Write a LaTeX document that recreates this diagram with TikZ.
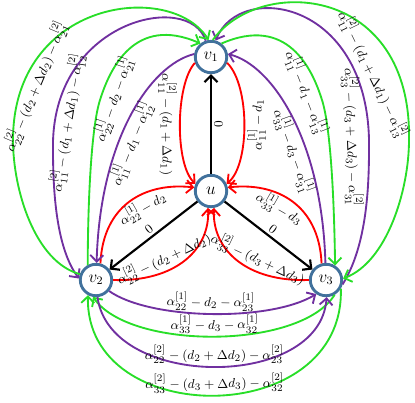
\documentclass[tikz,border=0pt]{standalone}
\usepackage{tikz}
\usetikzlibrary{arrows.meta}
\definecolor{nodeblue}{RGB}{65,113,156}
\definecolor{arcred}{RGB}{255,0,0}
\definecolor{arcgreen}{RGB}{40,222,40}
\definecolor{arcpurple}{RGB}{112,48,160}
\tikzset{
  vtx/.style={circle, draw=nodeblue, line width=2pt, fill=white, minimum size=22pt, inner sep=0pt, font=\large},
  arc/.style={line width=1.3pt, >={Straight Barb[length=1.6mm,width=3.2mm]}},
  redarc/.style={arc, draw=arcred},
  greenarc/.style={arc, draw=arcgreen},
  purplearc/.style={arc, draw=arcpurple},
  blackarc/.style={arc, draw=black, line width=1.5pt},
  lbl/.style={sloped, text=black, inner sep=1.5pt, font=\fontsize{9.5}{11}\selectfont}
}

\begin{document}
\begin{tikzpicture}[x=0.7pt, y=-0.7pt]
  \useasboundingbox (0,0) rectangle (415,402);
  \node[vtx] (v1) at (211,57) {$v_1$};
  \node[vtx] (u) at (211,191) {$u$};
  \node[vtx] (v2) at (96,280) {$v_2$};
  \node[vtx] (v3) at (326,280) {$v_3$};
  % u to the three v's
  \draw[blackarc,->] (u) -- (v1) node[lbl, midway, below] {$0$};
  \draw[blackarc,<-] (v2) -- (u) node[lbl, midway, above] {$0$};
  \draw[blackarc,->] (u) -- (v3) node[lbl, midway, above] {$0$};
  % red arcs back into u
  \draw[redarc,<-] (u.155) .. controls (175,165) and (175,85) .. (v1.200) node[lbl, midway, below] {$\alpha_{11}^{[2]}-(d_1+\Delta d_1)$};
  \draw[redarc,->] (v1.-20) .. controls (250,85) and (250,165) .. (u.25) node[lbl, midway, below] {$\alpha_{11}^{[1]}-d_1$};
  \draw[redarc,->] (v2.75) .. controls (103,205) and (145,182) .. (u.168) node[lbl, pos=0.56, below] {$\alpha_{22}^{[1]}-d_2$};
  \draw[redarc,->] (v2.0) .. controls (175,282) and (210,250) .. (u.-100) node[lbl, pos=0.36, above] {$\alpha_{22}^{[2]}-(d_2+\Delta d_2)$};
  \draw[redarc,<-] (u.12) .. controls (277,182) and (319,205) .. (v3.105) node[lbl, pos=0.44, below] {$\alpha_{33}^{[1]}-d_3$};
  \draw[redarc,<-] (u.-80) .. controls (212,250) and (247,282) .. (v3.180) node[lbl, pos=0.64, above] {$\alpha_{33}^{[2]}-(d_3+\Delta d_3)$};
  % between v1 and v2
  \draw[purplearc,->] (v1.170) .. controls (150,65) and (100,140) .. (v2.88) node[lbl, pos=0.6, below] {$\alpha_{11}^{[1]}-d_1-\alpha_{12}^{[1]}$};
  \draw[greenarc,->] (v2.119) .. controls (88,190) and (92,125) .. (100,100) .. controls (110,68) and (135,15) .. (v1.128) node[lbl, pos=0.05, below] {$\alpha_{22}^{[1]}-d_2-\alpha_{21}^{[1]}$};
  \draw[purplearc,<-] (v2.175) .. controls (58,250) and (53,200) .. (53,150) .. controls (50,20) and (190,-10) .. (v1.108) node[lbl, pos=0.08, below] {$\alpha_{11}^{[2]}-(d_1+\Delta d_1)-\alpha_{12}^{[2]}$};
  \draw[greenarc,->] (v2.160) .. controls (35,262) and (13,190) .. (13,140) .. controls (13,0) and (170,-20) .. (v1.98) node[lbl, pos=0.16, below] {$\alpha_{22}^{[2]}-(d_2+\Delta d_2)-\alpha_{21}^{[2]}$};
  % between v1 and v3
  \draw[purplearc,->] (v3.92) .. controls (322,140) and (272,65) .. (v1.10) node[lbl, pos=0.37, below] {$\alpha_{33}^{[1]}-d_3-\alpha_{31}^{[1]}$};
  \draw[greenarc,->] (v1.52) .. controls (287,15) and (312,68) .. (322,100) node[lbl, pos=0.88, below] {$\alpha_{11}^{[1]}-d_1-\alpha_{13}^{[1]}$} .. controls (330,125) and (334,190) .. (v3.58);
  \draw[purplearc,->] (v3.-15) .. controls (364,250) and (369,200) .. (369,150) .. controls (372,0) and (240,-20) .. (v1.74) node[lbl, pos=0.03, below=3pt] {$\alpha_{33}^{[2]}-(d_3+\Delta d_3)-\alpha_{31}^{[2]}$};
  \draw[greenarc,->] (v1.84) .. controls (260,-25) and (412,-15) .. (409,140) node[lbl, pos=0.8, below=8pt] {$\alpha_{11}^{[2]}-(d_1+\Delta d_1)-\alpha_{13}^{[2]}$} .. controls (409,190) and (387,262) .. (v3.5);
  % between v2 and v3
  \draw[purplearc,->] (v2.-40) .. controls (150,320) and (270,322) .. (v3.-125) node[lbl, midway, above] {$\alpha_{22}^{[1]}-d_2-\alpha_{23}^{[1]}$};
  \draw[greenarc,->] (v3.-60) .. controls (300,350) and (130,350) .. (v2.-100) node[lbl, midway, above] {$\alpha_{33}^{[1]}-d_3-\alpha_{32}^{[1]}$};
  \draw[purplearc,->] (v2.-85) .. controls (110,390) and (320,390) .. (v3.-88) node[lbl, midway, above] {$\alpha_{22}^{[2]}-(d_2+\Delta d_2)-\alpha_{23}^{[2]}$};
  \draw[greenarc,->] (v3.-30) .. controls (345,430) and (85,430) .. (v2.-118) node[lbl, midway, above] {$\alpha_{33}^{[2]}-(d_3+\Delta d_3)-\alpha_{32}^{[2]}$};
\end{tikzpicture}
\end{document}
